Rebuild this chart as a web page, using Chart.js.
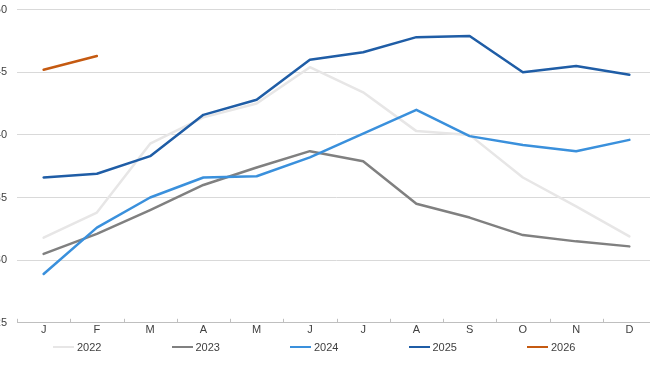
<!DOCTYPE html>
<html>
<head>
<meta charset="utf-8">
<script src="https://cdn.jsdelivr.net/npm/chart.js@4"></script>
<style>
  html, body { margin: 0; padding: 0; background: #ffffff; overflow: hidden; width: 650px; height: 365px; }
  #wrap { position: absolute; left: -30px; top: -7px; width: 690px; height: 372px; }
  #legend { position: absolute; left: 53px; top: 339px; display: flex; font-family: "Liberation Sans", Arial, sans-serif; font-size: 11px; color: #404040; }
  #legend .item { width: 118.5px; display: flex; align-items: center; height: 16px; }
  #legend .sw { width: 21px; height: 2.5px; margin-right: 3px; }
</style>
</head>
<body>
<div id="wrap"><canvas id="c" width="690" height="372"></canvas></div>
<div id="legend"></div>
<script>
const months = ["J", "F", "M", "A", "M", "J", "J", "A", "S", "O", "N", "D"];
const yTicks = [25, 30, 35, 40, 45, 50];
const s2022 = [31.8, 33.8, 39.3, 41.4, 42.5, 45.4, 43.4, 40.3, 40.0, 36.6, 34.3, 31.9];
const s2023 = [30.5, 32.1, 34.0, 36.0, 37.4, 38.7, 37.9, 34.5, 33.4, 32.0, 31.5, 31.1];
const s2024 = [28.9, 32.6, 35.0, 36.6, 36.7, 38.2, 40.1, 42.0, 39.9, 39.2, 38.7, 39.6];
const s2025 = [36.6, 36.9, 38.3, 41.6, 42.8, 46.0, 46.6, 47.8, 47.9, 45.0, 45.5, 44.8];
const s2026 = [45.2, 46.3, null, null, null, null, null, null, null, null, null, null];

const seriesNames = ["2022", "2023", "2024", "2025", "2026"];
const seriesData = [s2022, s2023, s2024, s2025, s2026];
const seriesColors = ["#e7e6e6", "#808080", "#3a90dc", "#1f5da6", "#c55a11"];

const datasets = seriesData.map((d, i) => ({
  label: seriesNames[i],
  data: d,
  borderColor: seriesColors[i],
  backgroundColor: seriesColors[i],
  borderWidth: 2.5,
  pointRadius: 0,
  tension: 0,
  borderCapStyle: 'round',
  borderJoinStyle: 'round',
  spanGaps: false,
  order: seriesData.length - i
}));

const upTicks = {
  id: 'upTicks',
  afterDraw(chart) {
    const x = chart.scales.x;
    const ctx = chart.ctx;
    const bottom = chart.chartArea.bottom;
    ctx.save();
    ctx.strokeStyle = '#bfbfbf';
    ctx.lineWidth = 1;
    ctx.beginPath();
    for (let i = 0; i <= months.length; i++) {
      const px = Math.round(x.getPixelForValue(i - 0.5)) + 0.5;
      ctx.moveTo(px, bottom - 4);
      ctx.lineTo(px, bottom);
    }
    ctx.stroke();
    ctx.restore();
  }
};

const chart = new Chart(document.getElementById('c'), {
  type: 'line',
  data: { labels: months, datasets: datasets },
  plugins: [upTicks],
  options: {
    responsive: false,
    animation: false,
    devicePixelRatio: 1,
    layout: { padding: { top: 2, right: 4, bottom: 27, left: 0 } },
    plugins: {
      legend: { display: false },
      tooltip: { enabled: false }
    },
    scales: {
      x: {
        offset: true,
        grid: { display: true, drawOnChartArea: false, drawTicks: false },
        border: { display: true, color: '#bfbfbf', width: 1 },
        ticks: { color: '#404040', font: { family: 'Liberation Sans', size: 11 }, padding: 1, maxRotation: 0, autoSkip: false }
      },
      y: {
        min: 25,
        max: 50,
        afterBuildTicks(scale) { scale.ticks = yTicks.map(v => ({ value: v })); },
        afterFit(scale) { scale.width = 47; },
        grid: { color: '#d9d9d9', lineWidth: 1, drawTicks: false },
        border: { display: false },
        ticks: { color: '#404040', font: { family: 'Liberation Sans', size: 11 }, padding: 10 }
      }
    }
  }
});

const lg = document.getElementById('legend');
chart.data.datasets.forEach(ds => {
  const it = document.createElement('div');
  it.className = 'item';
  const sw = document.createElement('span');
  sw.className = 'sw';
  sw.style.background = ds.borderColor;
  const tx = document.createElement('span');
  tx.textContent = ds.label;
  it.appendChild(sw);
  it.appendChild(tx);
  lg.appendChild(it);
});
</script>
</body>
</html>
